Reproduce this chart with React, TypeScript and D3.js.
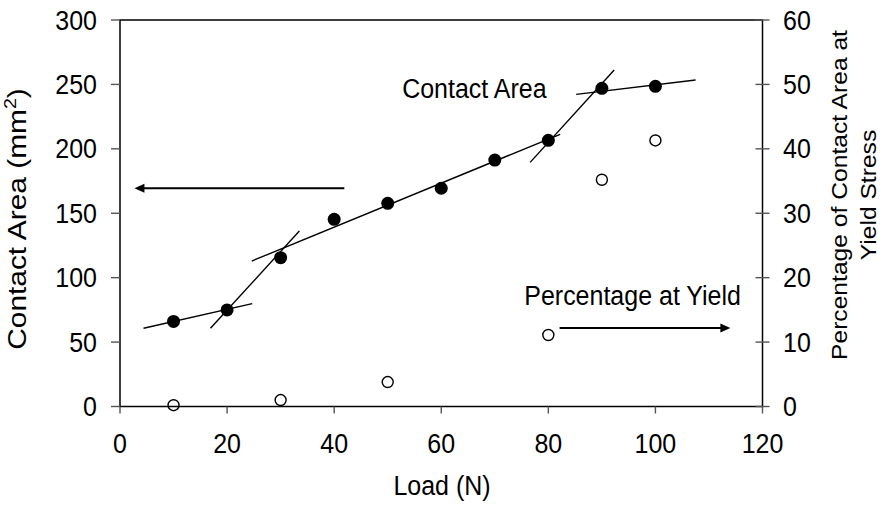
import React from 'react';
import * as d3 from 'd3';

// ---- data ----
const loads = [10, 20, 30, 40, 50, 60, 70, 80, 90, 100];
const contactArea = [66, 75, 115.5, 145.3, 157.7, 169.4, 191.3, 206.6, 247, 248.5];
const pctLoads = [10, 30, 50, 80, 90, 100];
const pctAtYield = [0.2, 1, 3.8, 11.1, 35.2, 41.3];
const xTicks = [0, 20, 40, 60, 80, 100, 120];
const yLeftTicks = [0, 50, 100, 150, 200, 250, 300];
const yRightTicks = [0, 10, 20, 30, 40, 50, 60];
// fitted line segments (load, area) -> (load, area)
const fitSegments: [number, number, number, number][] = [
  [4.4, 60.7, 24.7, 79.8],
  [16.9, 60.7, 33.5, 136.2],
  [24.6, 112.9, 82.2, 211.3],
  [76.6, 189.5, 92.3, 261.2],
  [85.2, 242.3, 107.5, 253.4],
];

const W = 887;
const H = 506;
const FONT = "'Liberation Sans', Arial, sans-serif";
const FS = 25;
const SY = 1.12;

export default function App() {
  const x = d3.scaleLinear().domain([0, 120]).range([120, 762.5]);
  const yL = d3.scaleLinear().domain([0, 300]).range([406.5, 20]);
  const yR = d3.scaleLinear().domain([0, 60]).range([406.5, 20]);

  const line = d3.line<[number, number]>().x(d => x(d[0])).y(d => yL(d[1]));

  const txt = (tx: number, ty: number, s: string, anchor: string = 'start') => (
    <text
      transform={`translate(${tx},${ty}) scale(1,${SY})`}
      textAnchor={anchor as any}
      fontFamily={FONT}
      fontSize={FS}
      fill="#000"
    >
      {s}
    </text>
  );

  // arrows (annotation positions in data units)
  const la = { x1: x(41.9), x2: x(2.7), y: yL(169.4) };
  const ra = { x1: x(82.1), x2: x(114), y: yR(12.2) };

  return (
    <svg
      width={W}
      height={H}
      style={{ position: 'absolute', left: 0, top: 0, background: '#fff' }}
    >
      <rect x={0} y={0} width={W} height={H} fill="#fff" />
      {/* fit lines */}
      {fitSegments.map((s, i) => (
        <path
          key={'f' + i}
          d={line([[s[0], s[1]], [s[2], s[3]]]) || ''}
          stroke="#000"
          strokeWidth={1.4}
          fill="none"
        />
      ))}
      {/* contact area points */}
      {loads.map((l, i) => (
        <circle key={'c' + i} cx={x(l)} cy={yL(contactArea[i])} r={6.5} fill="#000" />
      ))}
      {/* percentage points */}
      {pctLoads.map((l, i) => (
        <circle
          key={'p' + i}
          cx={x(l)}
          cy={yR(pctAtYield[i])}
          r={5.5}
          fill="#fff"
          stroke="#000"
          strokeWidth={1.4}
        />
      ))}

      {/* frame */}
      <rect x={x(0)} y={yL(300)} width={x(120) - x(0)} height={yL(0) - yL(300)} fill="none" stroke="#000" strokeWidth={1.5} />

      {/* left ticks */}
      {yLeftTicks.map(t => (
        <g key={'yl' + t}>
          <line x1={x(0) - 9} x2={x(0)} y1={yL(t)} y2={yL(t)} stroke="#555" strokeWidth={1.4} />
          {txt(97, yL(t) + 9.5, String(t), 'end')}
        </g>
      ))}
      {/* right ticks */}
      {yRightTicks.map(t => (
        <g key={'yr' + t}>
          <line x1={x(120) - 7} x2={x(120) + 7} y1={yR(t)} y2={yR(t)} stroke="#555" strokeWidth={1.4} />
          {txt(783, yR(t) + 9.5, String(t), 'start')}
        </g>
      ))}
      {/* x ticks */}
      {xTicks.map(t => (
        <g key={'x' + t}>
          <line x1={x(t)} x2={x(t)} y1={yL(0)} y2={yL(0) + 7} stroke="#555" strokeWidth={1.4} />
          {txt(x(t), 452.5, String(t), 'middle')}
        </g>
      ))}

      {/* axis titles */}
      {txt(442, 495, 'Load (N)', 'middle')}
      <text
        transform={`translate(26,219) scale(1,1.15) rotate(-90)`}
        textAnchor="middle"
        fontFamily={FONT}
        fontSize={26}
        fill="#000"
      >
        Contact Area (mm
        <tspan fontSize={17} dy={-10}>2</tspan>
        <tspan dy={10}>)</tspan>
      </text>
      <text
        transform={`translate(847,195) scale(1,${SY}) rotate(-90)`}
        textAnchor="middle"
        fontFamily={FONT}
        fontSize={22}
        fill="#000"
      >
        Percentage of Contact Area at
      </text>
      <text
        transform={`translate(876,195) scale(1,${SY}) rotate(-90)`}
        textAnchor="middle"
        fontFamily={FONT}
        fontSize={22}
        fill="#000"
      >
        Yield Stress
      </text>

      {/* annotations */}
      {txt(x(52.7), yL(239.5), 'Contact Area', 'start')}
      {txt(x(75.5), yL(78.8), 'Percentage at Yield', 'start')}

      <line x1={la.x1} x2={la.x2 + 8} y1={la.y} y2={la.y} stroke="#000" strokeWidth={2} />
      <path d={`M${la.x2},${la.y} L${la.x2 + 10},${la.y - 4.5} L${la.x2 + 10},${la.y + 4.5} Z`} fill="#000" />
      <line x1={ra.x1} x2={ra.x2 - 8} y1={ra.y} y2={ra.y} stroke="#000" strokeWidth={2} />
      <path d={`M${ra.x2},${ra.y} L${ra.x2 - 10},${ra.y - 4.5} L${ra.x2 - 10},${ra.y + 4.5} Z`} fill="#000" />
    </svg>
  );
}
